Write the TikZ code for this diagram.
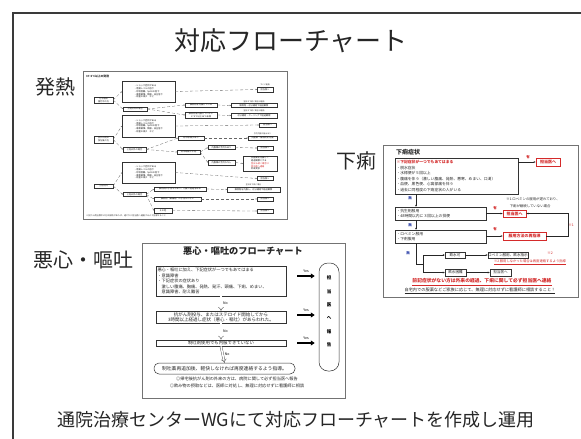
\documentclass[tikz,border=0pt]{standalone}
\usepackage{fontspec}
\setmainfont{Noto Sans CJK JP}
\usetikzlibrary{arrows.meta}
\definecolor{framegray}{HTML}{3A3A3A}
\definecolor{redtx}{HTML}{D42A2A}
\definecolor{bluetx}{HTML}{2A3FA8}
\newcommand{\jfs}[2]{\fontsize{#1}{#2}\selectfont}
\begin{document}
\begin{tikzpicture}[x=1pt,y=-1pt,
  lbl/.style={font=\jfs{20}{24}, text=black!85, inner sep=0pt},
  thumb/.style={draw=black!55, line width=0.8pt, fill=white, inner sep=0pt},
  fbx/.style={draw=black!80, line width=0.35pt, inner sep=0.2pt, font=\jfs{2.2}{2.8}, align=center, text=black!90},
  ftx/.style={inner sep=0pt, font=\jfs{1.9}{2.3}, text=black!80},
  fln/.style={draw=black!60, line width=0.3pt, densely dashed, -{Stealth[length=1.2pt,width=1.2pt]}},
  nbx/.style={draw=black!80, line width=0.5pt, inner sep=0.5pt, text=black!85},
  nno/.style={draw=black!75, line width=0.35pt, double distance=1.6pt, -{Implies[length=1.5pt]}},
  yesar/.style={line width=1.6pt, -{Triangle[length=4pt,width=5pt]}},
  smal/.style={inner sep=0pt, font=\jfs{3.5}{4}},
  dbx/.style={draw=black!80, line width=0.5pt, inner sep=1pt, font=\jfs{3.8}{5.6}, align=left, text=black!85},
  dred/.style={draw=redtx, line width=0.8pt, text=redtx, font=\bfseries\jfs{4}{5}, inner sep=0.4pt},
  darr/.style={-{Stealth[length=2pt,width=1.8pt]}, line width=0.45pt, draw=black!85},
  rlab/.style={inner sep=0pt, font=\bfseries\jfs{3.5}{4}, text=redtx},
  blab/.style={inner sep=0pt, font=\bfseries\jfs{3.5}{4}, text=bluetx}
]
\useasboundingbox (0,0) rectangle (581,439);
\fill[white] (0,0) rectangle (581,439);
% slide frame
\draw[framegray, line width=2pt] (13,439) -- (13,13) -- (581,13);

% titles and labels
\node[font=\jfs{26}{30}, text=black!85, inner sep=0pt] (title) at (291,41) {対応フローチャート};
\node[lbl] (fever) at (55,87) {発熱};
\node[lbl] (nausea) at (83,260) {悪心・嘔吐};
\node[lbl] (diarr) at (356,161) {下痢};
\node[font=\jfs{18}{22}, text=black!85, inner sep=0pt] (foot) at (296,420) {通院治療センターWGにて対応フローチャートを作成し運用};

% ================= fever thumbnail =================
\node[thumb, minimum width=204pt, minimum height=148pt] (fthumb) at (185,145) {};
\node[anchor=west, font=\bfseries\jfs{2.8}{3}, text=black!85, inner sep=0pt] (ftitle) at (86,76) {37.5℃以上の発熱};
\node[fbx, minimum width=19pt, minimum height=6pt] (fL1) at (103.5,100) {化学療法\\施行中の方};
\node[fbx, minimum width=19pt, minimum height=7pt] (fL2) at (103.5,139.5) {抗がん剤の\\投与後の方};
\node[fbx, minimum width=19pt, minimum height=4pt] (fL3) at (103.5,186) {上記以外};
\node[fbx, minimum width=53pt, minimum height=21pt, align=left] (fB1) at (148.5,91.5) {・ショック症状がある\\・意識レベルの低下\\・呼吸困難、SpO2の低下\\・悪寒戦慄、頻脈、血圧低下\\・尿量の減少　など};
\node[fbx, minimum width=53pt, minimum height=22pt, align=left] (fB2) at (148.5,126) {・ショック症状がある\\・意識レベルの低下\\・呼吸困難、SpO2の低下\\・悪寒戦慄、頻脈、血圧低下\\・尿量の減少　など};
\node[fbx, minimum width=53pt, minimum height=21pt, align=left] (fB3) at (148.5,172.5) {・ショック症状がある\\・意識レベルの低下\\・呼吸困難、SpO2の低下\\・悪寒戦慄、頻脈、血圧低下\\・尿量の減少　など};
\node[fbx, minimum width=24pt, minimum height=4pt] (fS1) at (135,109) {上記以外の場合};
\node[fbx, minimum width=23pt, minimum height=5pt] (fS2) at (134.5,149.5) {上記以外の場合};
\node[fbx, minimum width=23pt, minimum height=4pt] (fS3) at (134.5,194.5) {上記以外の場合};
% group 1
\node[fbx, minimum width=16pt, minimum height=5pt] (fE1) at (265,89.5) {担当医へ};
\node[ftx] (fE1t) at (265,85) {すぐに連絡};
\node[fbx, minimum width=32pt, minimum height=4pt] (fR1a) at (201,105) {解熱剤を内服している};
\node[fbx, minimum width=32pt, minimum height=6pt] (fR1b) at (201,115) {解熱剤を内服していない\\37.5℃以上38℃未満};
\node[fbx, minimum width=46pt, minimum height=4pt] (fR1c) at (254,105.5) {解熱剤・水分補給で経過観察};
\node[fbx, minimum width=46pt, minimum height=5pt] (fR1d) at (254,115.5) {水分補給・クーリングで経過観察};
\node[ftx] (fR1ct) at (254,101.5) {翌日まで続く場合は連絡};
\node[ftx] (fR1dt) at (254,111) {翌日まで続く場合は連絡};
% group 2
\node[fbx, minimum width=17pt, minimum height=4pt] (fE2) at (267.5,125) {担当医へ};
\node[fbx, minimum width=26pt, minimum height=4pt] (fG2a) at (191,138) {好中球減少あり};
\node[fbx, minimum width=29pt, minimum height=4pt] (fG2b) at (262.5,138) {抗菌薬・解熱剤を内服};
\node[ftx] (fG2bt) at (262.5,134) {予防内服の指示あり};
\node[fbx, minimum width=23pt, minimum height=4pt] (fG2c) at (188.5,152) {好中球数が不明};
\node[fbx, minimum width=27pt, minimum height=4pt] (fG2d) at (221.5,147.5) {内服薬の手持ちあり};
\node[fbx, minimum width=16pt, minimum height=4pt] (fG2e) at (265,148) {担当医へ};
\node[fbx, minimum width=27pt, minimum height=5pt] (fG2f) at (221.5,162.5) {内服薬の手持ちなし};
\node[fbx, minimum width=34pt, minimum height=15pt, align=left] (fG2g) at (260,163.5) {抗菌薬を内服して\\経過観察とする\\{\color{redtx}翌日も続く場合は}\\{\color{redtx}担当医へ連絡}\\外来受診};
% group 3
\node[fbx, minimum width=16pt, minimum height=4pt] (fE3) at (265,178.5) {担当医へ};
\node[fbx, minimum width=52pt, minimum height=4pt] (fG3a) at (180,189) {解熱剤の手持ちがあり、内服で経過をみる};
\node[fbx, minimum width=53pt, minimum height=5pt] (fG3b) at (253.5,189.5) {解熱剤を内服し、水分補給で経過観察};
\node[ftx] (fG3bt) at (253.5,185) {翌日まで続く場合};
\node[fbx, minimum width=47pt, minimum height=4pt] (fG3c) at (177.5,199) {解熱剤（鎮痛剤）の手持ちがない};
\node[fbx, minimum width=16pt, minimum height=4pt] (fG3d) at (265,199) {担当医へ};
\node[fbx, minimum width=18pt, minimum height=5pt] (fG3e) at (163,210.5) {その他};
\node[fbx, minimum width=16pt, minimum height=4pt] (fG3f) at (265,211) {担当医へ};
\node[anchor=west, ftx, font=\jfs{2.1}{2.4}] (ffoot) at (86,216) {※抗がん剤治療中の方は発熱があれば、速やかに担当医へ連絡するよう指導すること};
% fever connectors
\draw[fln] (fL1.east) -- (fB1.west);
\draw[fln] (fL1.east) -- (fS1.west);
\draw[fln] (fB1.east) -- (fE1.west);
\draw[fln] (fS1.east) -- (fR1a.west);
\draw[fln] (fS1.east) -- (fR1b.west);
\draw[fln] (fR1a.east) -- (fR1c.west);
\draw[fln] (fR1b.east) -- (fR1d.west);
\draw[fln] (fL2.east) -- (fB2.west);
\draw[fln] (fL2.east) -- (fS2.west);
\draw[fln] (fB2.east) -- (fE2.west);
\draw[fln] (fS2.east) -- (fG2a.west);
\draw[fln] (fS2.east) -- (fG2c.west);
\draw[fln] (fG2a.east) -- (fG2b.west);
\draw[fln] (fG2c.east) -- (fG2d.west);
\draw[fln] (fG2c.east) -- (fG2f.west);
\draw[fln] (fG2d.east) -- (fG2e.west);
\draw[fln] (fG2f.east) -- (fG2g.west);
\draw[fln] (fL3.east) -- (fB3.west);
\draw[fln] (fL3.east) -- (fS3.west);
\draw[fln] (fB3.east) -- (fE3.west);
\draw[fln] (fS3.east) -- (fG3a.west);
\draw[fln] (fS3.east) -- (fG3c.west);
\draw[fln] (fS3.east) -- (fG3e.west);
\draw[fln] (fG3a.east) -- (fG3b.west);
\draw[fln] (fG3c.east) -- (fG3d.west);
\draw[fln] (fG3e.east) -- (fG3f.west);

% ================= nausea thumbnail =================
\node[thumb, minimum width=203pt, minimum height=155pt] (nthumb) at (243.5,320.5) {};
\node[font=\bfseries\jfs{9.2}{11}, text=black!85, inner sep=0pt] (ntitle) at (243,251) {悪心・嘔吐のフローチャート};
\node[nbx, minimum width=130pt, minimum height=30pt, text width=127pt, align=left, font=\jfs{4.2}{5.6}] (n1) at (221,281) {悪心・嘔吐に加え、下記症状が一つでもあてはまる\\・意識障害\\・下記症状の症状あり\\　激しい腹痛、胸痛、発熱、発汗、頭痛、下痢、めまい、\\　意識障害、耐え難苦};
\node[nbx, minimum width=130pt, minimum height=12pt, align=center, font=\jfs{4.5}{5.2}] (n2) at (221,317) {抗がん剤投与、またはステロイド開始してから\\3時間以上経過し症状（悪心・嘔吐）があらわれた。};
\node[nbx, minimum width=130pt, minimum height=6.5pt, inner sep=0.2pt, font=\jfs{4.4}{5}] (n3) at (221,343) {制吐剤使用でも内服できていない};
\node[nbx, minimum width=141pt, minimum height=11pt, rounded corners=5pt, font=\jfs{4.8}{5.5}] (n4) at (224.5,368.5) {制吐薬再追加後、軽快しなければ再度連絡するよう指導。};
\node[inner sep=0pt, font=\jfs{4.2}{7}, align=center, text=black!85] (nfoot) at (237,382.5) {◎帰宅後抗がん剤の外来の方は、病院に関して必ず担当医へ報告\\◎飲み物の摂取などは、医師に対処し、無理に対応せずに看護師に相談};
\node[nbx, minimum width=20pt, minimum height=108pt, rounded corners=9pt] (nT) at (329,317) {};
\node[inner sep=0pt, font=\bfseries\jfs{4.5}{13.4}, align=center] (nTt) at (329,311.5) {担\\当\\医\\へ\\報\\告};
\draw[nno] (n1.south) -- node[smal, right=2pt] {No} (n2.north);
\draw[nno] (n2.south) -- node[smal, right=2pt] {No} (n3.north);
\draw[nno] (n3.south) -- node[smal, right=2pt] {No} (n4.north);
\draw[yesar] ([xshift=11pt,yshift=5pt]n1.east) -- ([xshift=-4pt,yshift=5pt]n1.east -| nT.west) node[smal, midway, above=3pt] {Yes};
\draw[yesar] ([xshift=11pt,yshift=2pt]n2.east) -- ([xshift=-4pt,yshift=2pt]n2.east -| nT.west) node[smal, midway, above=3pt] {Yes};
\draw[yesar] ([xshift=11pt]n3.east) -- ([xshift=-4pt]n3.east -| nT.west) node[smal, midway, above=3pt] {Yes};

% ================= diarrhea thumbnail =================
\node[thumb, minimum width=195pt, minimum height=152pt] (dthumb) at (480.5,221) {};
\node[anchor=west, font=\bfseries\jfs{6}{7}, text=black!85, inner sep=0pt] (dtitle) at (396,152) {下痢症状};
\node[dbx, minimum width=123pt, minimum height=36pt, text width=120pt] (d1) at (456.5,176) {{\color{redtx}\bfseries ※下記症状が一つでもあてはまる}\\・脱水症状\\・水様便が５回以上\\・腹痛を伴う（激しい腹痛、発熱、悪寒、めまい、口渇）\\・血便、黒色便、心窩部痛を伴う\\・過去に同程度の下痢症状の人がいる};
\node[dred, minimum width=24pt, minimum height=8pt] (dr1) at (548,162) {担当医へ};
\node[dbx, minimum width=91pt, minimum height=13pt, text width=88pt, font=\jfs{3.8}{5}] (d2) at (440.5,213.5) {・抗生剤服用\\・48時間以内に３回以上の排便};
\node[dred, minimum width=23pt, minimum height=7pt] (dr2) at (514.5,213.5) {担当医へ};
\node[dbx, minimum width=91pt, minimum height=13pt, text width=88pt, font=\jfs{3.8}{5}] (d3) at (440.5,236.5) {・ロペミン服用\\・下剤服用};
\node[dred, minimum width=43pt, minimum height=8pt] (dr3) at (524.5,236) {服用方法の再指導};
\node[inner sep=0pt, font=\jfs{3.4}{6.5}, align=left, text=black!85] (dnote1) at (533,202.5) {※1 ロペミンの服用が遅れており、\\　下痢が継続していない場合};
\node[dbx, minimum width=20pt, minimum height=6pt, inner sep=0.3pt, font=\jfs{3.6}{4}, align=center] (k1) at (455,255) {飲水可};
\node[dbx, minimum width=21pt, minimum height=7pt, inner sep=0.3pt, font=\jfs{3.6}{4}, align=center] (k2) at (455.5,272.5) {飲水困難};
\node[dbx, minimum width=36pt, minimum height=6pt, inner sep=0.3pt, font=\jfs{3.6}{4}, align=center] (k3) at (508,255) {ロペミン服用、飲水指示};
\node[dbx, minimum width=21pt, minimum height=7pt, inner sep=0.3pt, font=\jfs{3.6}{4}, align=center] (k4) at (500.5,272.5) {担当医へ};
\node[rlab] (dy1) at (528,157) {有};
\node[rlab] (dy2) at (495,208) {有};
\node[rlab] (dy3) at (495,229) {有};
\node[blab] (dn1) at (410,198) {無};
\node[blab] (dn2) at (410,225) {無};
\node[blab] (dn3) at (408,253) {無};
\node[rlab, font=\jfs{3.5}{4}] (dk1) at (571,225) {※1};
\node[rlab, font=\jfs{3.5}{4}] (dk2) at (550,253) {※2};
\node[inner sep=0pt, font=\jfs{3.3}{4}, text=redtx] (dnote2) at (530,262) {\underline{※2 服用しなかった場合は再度連絡するよう指導}};
\node[inner sep=0pt, font=\bfseries\jfs{4.8}{5.5}, text=redtx] (dfoot1) at (482,282) {\underline{前記症状がない方は外来の経過、下痢に関して必ず担当医へ連絡}};
\node[inner sep=0pt, font=\jfs{4.2}{5}, text=black!85] (dfoot2) at (480,291) {\underline{自宅内での服薬などご家族に応じて、無理に対応せずに看護師に相談すること！}};
\coordinate (sx) at (416,0);
\coordinate (br) at (423,264);
\coordinate (rt) at (568,236);
\draw[darr] (d1.east |- dr1.west) -- (dr1.west);
\draw[darr] (d2.east) -- (dr2.west);
\draw[darr] (d3.east |- dr3.west) -- (dr3.west);
\draw[darr] (dr3.east) -- (rt) |- (dr2.east);
\draw[darr] (d1.south -| sx) -- (d2.north -| sx);
\draw[darr] (d2.south -| sx) -- (d3.north -| sx);
\draw[line width=0.45pt, draw=black!85] (d3.south -| sx) |- (br);
\draw[darr] (br) |- (k1.west);
\draw[darr] (br) |- (k2.west);
\draw[darr] (k1.east) -- (k3.west);
\draw[darr] (k2.east) -- (k4.west);
\end{tikzpicture}
\end{document}
